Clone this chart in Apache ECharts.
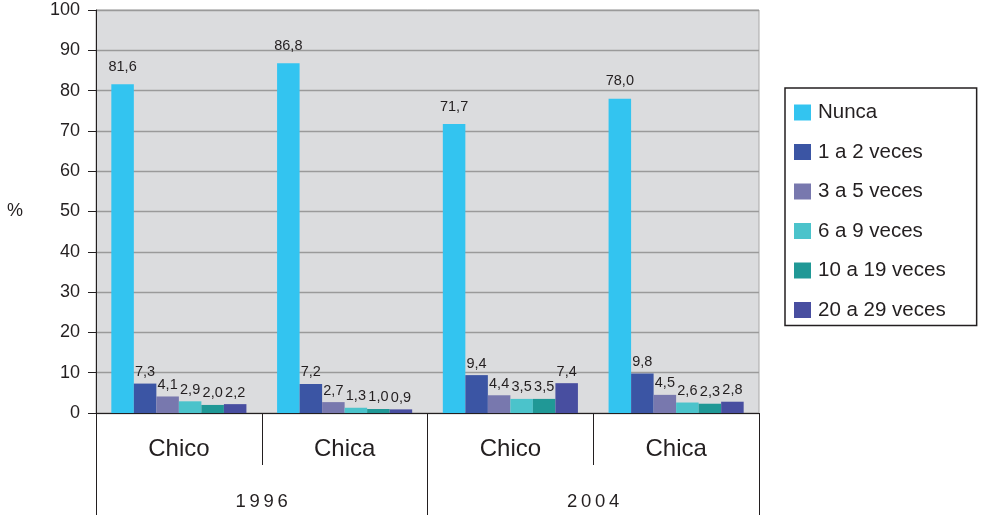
<!DOCTYPE html>
<html>
<head>
<meta charset="utf-8">
<script src="https://cdn.jsdelivr.net/npm/echarts@6/dist/echarts.min.js"></script>
<style>
html,body{margin:0;padding:0;background:#fff;}
#chart{width:982px;height:515px;}
</style>
</head>
<body>
<div id="chart"></div>
<script>
// Data
var categories = ['Chico', 'Chica', 'Chico', 'Chica'];
var years = ['1996', '2004'];
var seriesNames = ['Nunca', '1 a 2 veces', '3 a 5 veces', '6 a 9 veces', '10 a 19 veces', '20 a 29 veces'];
var nunca = [81.6, 86.8, 71.7, 78.0];
var v1a2 = [7.3, 7.2, 9.4, 9.8];
var v3a5 = [4.1, 2.7, 4.4, 4.5];
var v6a9 = [2.9, 1.3, 3.5, 2.6];
var v10a19 = [2.0, 1.0, 3.5, 2.3];
var v20a29 = [2.2, 0.9, 7.4, 2.8];
var yTicks = [0, 10, 20, 30, 40, 50, 60, 70, 80, 90, 100];

var values = [nunca, v1a2, v3a5, v6a9, v10a19, v20a29];
var colors = ['#33C4F0', '#3B55A4', '#7878AE', '#4BC3CB', '#209896', '#484EA0'];

var chart = echarts.init(document.getElementById('chart'));
var fontFam = "'Liberation Sans', Arial, sans-serif";

var series = seriesNames.map(function (name, i) {
  return {
    name: name,
    type: 'bar',
    xAxisIndex: 0,
    data: values[i],
    barGap: '0%',
    barCategoryGap: '18.5%',
    itemStyle: { color: colors[i] },
    label: {
      show: true,
      position: 'top',
      distance: i === 0 ? 10 : 4,
      color: '#231F20',
      fontFamily: fontFam,
      fontSize: 14.5,
      formatter: function (p) { return p.value.toFixed(1).replace('.', ','); }
    }
  };
});

chart.setOption({
  backgroundColor: '#ffffff',
  animation: false,
  grid: {
    left: 96, right: 223, top: 10, bottom: 102,
    show: true, backgroundColor: '#DBDCDE', borderColor: '#A8A8A8', borderWidth: 1
  },
  legend: {
    orient: 'vertical',
    left: 785, top: 88,
    data: seriesNames,
    icon: 'rect',
    itemWidth: 17, itemHeight: 16,
    itemGap: 18.5,
    padding: [14, 31, 5, 9],
    borderColor: '#231F20', borderWidth: 1.5,
    backgroundColor: '#fff',
    textStyle: { fontFamily: fontFam, fontSize: 20.5, color: '#231F20', padding: [0, 0, 0, 2] }
  },
  xAxis: [
    {
      type: 'category',
      data: categories,
      position: 'bottom',
      axisLine: { show: true, lineStyle: { color: '#231F20', width: 1 } },
      axisTick: { show: true, length: 52, interval: 0, lineStyle: { color: '#231F20' } },
      axisLabel: { margin: 24, fontFamily: fontFam, fontSize: 24, color: '#231F20', interval: 0 }
    },
    {
      type: 'category',
      data: years,
      position: 'bottom',
      offset: 0,
      axisLine: { show: false },
      axisTick: { show: true, length: 102, interval: 0, lineStyle: { color: '#231F20' } },
      axisLabel: { margin: 79, fontFamily: fontFam, fontSize: 18.5, color: '#231F20', interval: 0,
        formatter: function (v) { return v.split('').join('\u2009'); } }
    }
  ],
  yAxis: {
    type: 'value',
    min: yTicks[0], max: yTicks[yTicks.length - 1], interval: 10,
    name: '%',
    nameLocation: 'middle',
    nameRotate: 0,
    nameGap: 73,
    nameTextStyle: { fontFamily: fontFam, fontSize: 18, color: '#231F20', padding: [6, 0, 0, 0] },
    axisLine: { show: true, lineStyle: { color: '#231F20' } },
    axisTick: { show: true, inside: false, length: 8, lineStyle: { color: '#231F20' } },
    axisLabel: { margin: 16, fontFamily: fontFam, fontSize: 18, color: '#231F20' },
    splitLine: { show: true, lineStyle: { color: '#9A9A9A', width: 1.3 } }
  },
  series: series
});
</script>
</body>
</html>
